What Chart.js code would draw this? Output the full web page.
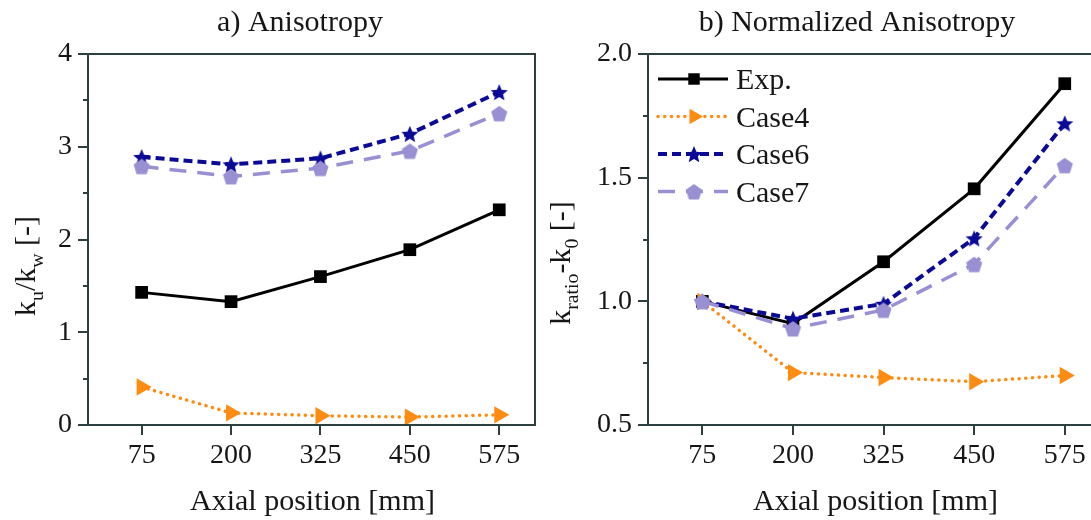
<!DOCTYPE html>
<html>
<head>
<meta charset="utf-8">
<script src="https://cdn.jsdelivr.net/npm/chart.js@4/dist/chart.umd.min.js"></script>
<style>
  html, body { margin: 0; padding: 0; background: #fff; overflow: hidden; }
  #wrap { position: relative; width: 1091px; height: 520px; overflow: hidden; }
  #wrap canvas { position: absolute; top: 0; }
  #left { left: 0; }
  #right { left: 545px; }
</style>
</head>
<body>
<div id="wrap">
  <canvas id="left" width="545" height="520"></canvas>
  <canvas id="right" width="580" height="520"></canvas>
</div>
<script>
// axial measurement positions [mm]
const positions = [75, 200, 325, 450, 575];
const seriesNames = ["Exp.", "Case4", "Case6", "Case7"];

// a) anisotropy k_u/k_w
const expA   = [1.43, 1.33, 1.60, 1.89, 2.32];
const case4A = [0.41, 0.13, 0.10, 0.085, 0.11];
const case6A = [2.89, 2.81, 2.875, 3.14, 3.59];
const case7A = [2.79, 2.68, 2.77, 2.955, 3.36];

// b) normalized anisotropy
const expB   = [1.00, 0.91, 1.16, 1.455, 1.88];
const case4B = [1.00, 0.712, 0.692, 0.675, 0.70];
const case6B = [1.00, 0.93, 0.99, 1.255, 1.72];
const case7B = [1.00, 0.89, 0.965, 1.15, 1.55];

const yTicksA = [0, 1, 2, 3, 4];
const yTicksB = [0.5, 1.0, 1.5, 2.0];

const SERIF = '"Liberation Serif", "Times New Roman", serif';
const AXIS = '#2e3f3f';
const INK = '#161616';

function starCanvas(color, r) {
  const s = Math.ceil(r * 2 + 2);
  const c = document.createElement('canvas');
  c.width = c.height = s;
  const g = c.getContext('2d');
  g.fillStyle = color;
  g.beginPath();
  for (let i = 0; i < 10; i++) {
    const rr = i % 2 ? r * 0.45 : r;
    const a = -Math.PI / 2 + i * Math.PI / 5;
    g.lineTo(s / 2 + rr * Math.cos(a), s / 2 + 1 + rr * Math.sin(a));
  }
  g.closePath();
  g.fill();
  return c;
}

function pentagonCanvas(color, r) {
  const s = Math.ceil(r * 2 + 2);
  const c = document.createElement('canvas');
  c.width = c.height = s;
  const g = c.getContext('2d');
  g.fillStyle = color;
  g.beginPath();
  for (let i = 0; i < 5; i++) {
    const a = -Math.PI / 2 + i * 2 * Math.PI / 5;
    g.lineTo(s / 2 + r * Math.cos(a), s / 2 + 1 + r * Math.sin(a));
  }
  g.closePath();
  g.fill();
  return c;
}

const styles = [
  { color: '#000000', width: 3, dash: [], style: 'rect', radius: 9, rotation: 0, order: 3 },
  { color: '#ff8c12', width: 3.5, dash: [0.1, 6.6], style: 'triangle', radius: 10, rotation: 90, order: 2, cap: 'round' },
  { color: '#0a0a96', width: 4, dash: [9, 5], style: starCanvas('#0a0a96', 9), radius: 9, rotation: 0, order: 1 },
  { color: '#9990d3', width: 3.5, dash: [17, 11], style: pentagonCanvas('#9990d3', 8.5), radius: 9, rotation: 0, order: 0 }
];

// draws a run of text pieces, some of them as subscripts
function richText(ctx, parts, x, y, size) {
  let cx = x;
  parts.forEach(p => {
    const fs = p.sub ? size * 0.66 : size;
    ctx.font = fs + 'px ' + SERIF;
    ctx.fillText(p.t, cx, y + (p.sub ? size * 0.27 : 0));
    cx += ctx.measureText(p.t).width;
  });
  return cx - x;
}
function richWidth(ctx, parts, size) {
  let w = 0;
  parts.forEach(p => {
    ctx.font = (p.sub ? size * 0.66 : size) + 'px ' + SERIF;
    w += ctx.measureText(p.t).width;
  });
  return w;
}

const decor = {
  id: 'decor',
  afterDraw(chart, args, o) {
    const { ctx, chartArea: a, scales } = chart;
    ctx.save();
    // frame and minor ticks
    ctx.strokeStyle = AXIS;
    ctx.lineWidth = 2;
    ctx.strokeRect(a.left, a.top, a.right - a.left, a.bottom - a.top);
    ctx.beginPath();
    o.minor.forEach(v => {
      const py = Math.round(scales.y.getPixelForValue(v));
      ctx.moveTo(a.left - 5, py);
      ctx.lineTo(a.left, py);
    });
    ctx.stroke();

    ctx.fillStyle = INK;
    ctx.textBaseline = 'alphabetic';
    // panel title
    ctx.font = '30px ' + SERIF;
    ctx.textAlign = 'center';
    ctx.fillText(o.title, o.titleX, 31);
    // x axis title
    ctx.fillText('Axial position [mm]', (a.left + a.right) / 2 + o.xTitleShift, 510);

    // y axis title, rotated
    ctx.textAlign = 'left';
    const w = richWidth(ctx, o.yTitle, 30);
    ctx.translate(o.yTitleX, o.yTitleY);
    ctx.rotate(-Math.PI / 2);
    richText(ctx, o.yTitle, -w / 2, 0, 30);
    ctx.restore();

    if (o.legend) {
      const lg = o.legend;
      chart.data.datasets.forEach((ds, i) => {
        const st = styles[i];
        const y = lg.y + i * lg.step;
        ctx.save();
        ctx.strokeStyle = st.color;
        ctx.lineWidth = st.width;
        ctx.lineCap = st.cap || 'butt';
        ctx.setLineDash(st.dash);
        ctx.beginPath();
        ctx.moveTo(lg.x0, y);
        ctx.lineTo(lg.x1, y);
        ctx.stroke();
        ctx.setLineDash([]);
        ctx.fillStyle = st.color;
        Chart.helpers.drawPoint(ctx, {
          pointStyle: st.style, radius: st.radius * 0.9, rotation: st.rotation, borderWidth: 0
        }, lg.mx, y);
        ctx.fillStyle = INK;
        ctx.font = '30px ' + SERIF;
        ctx.textAlign = 'left';
        ctx.fillText(ds.label, lg.tx, y + 10);
        ctx.restore();
      });
    }
  }
};

function buildChart(id, values, yMin, yMax, yTicks, fmt, yWidth, padRight, deco) {
  const datasets = values.map((vals, i) => {
    const st = styles[i];
    return {
      label: seriesNames[i],
      data: positions.map((x, j) => ({ x: x, y: vals[j] })),
      borderColor: st.color,
      backgroundColor: st.color,
      borderWidth: st.width,
      borderDash: st.dash,
      borderCapStyle: st.cap || 'butt',
      pointStyle: st.style,
      pointRadius: st.radius,
      pointRotation: st.rotation,
      pointBackgroundColor: st.color,
      pointBorderWidth: 0,
      tension: 0,
      order: st.order,
      clip: false
    };
  });

  return new Chart(document.getElementById(id), {
    type: 'line',
    data: { datasets: datasets },
    options: {
      responsive: false,
      animation: false,
      events: [],
      layout: { padding: { top: 54, right: padRight, left: 0, bottom: 0 } },
      plugins: { legend: { display: false }, tooltip: { enabled: false }, decor: deco },
      scales: {
        x: {
          type: 'linear',
          min: 0,
          max: 625,
          afterBuildTicks: s => { s.ticks = positions.map(v => ({ value: v })); },
          afterFit: s => { s.height = 95; },
          border: { display: false },
          grid: { drawOnChartArea: false, drawTicks: true, tickLength: 10, color: AXIS, lineWidth: 2 },
          ticks: { color: INK, font: { family: SERIF, size: 28 }, padding: 4, maxRotation: 0, autoSkip: false }
        },
        y: {
          type: 'linear',
          min: yMin,
          max: yMax,
          afterBuildTicks: s => { s.ticks = yTicks.map(v => ({ value: v })); },
          afterFit: s => { s.width = yWidth; },
          border: { display: false },
          grid: { drawOnChartArea: false, drawTicks: true, tickLength: 10, color: AXIS, lineWidth: 2 },
          ticks: { color: INK, font: { family: SERIF, size: 28 }, padding: 6, callback: fmt }
        }
      }
    },
    plugins: [decor]
  });
}

buildChart('left', [expA, case4A, case6A, case7A], 0, 4, yTicksA, v => String(v), 88, 5, {
  title: 'a) Anisotropy',
  titleX: 300,
  xTitleShift: 1,
  yTitle: [{ t: 'k' }, { t: 'u', sub: true }, { t: '/k' }, { t: 'w', sub: true }, { t: ' [-]' }],
  yTitleX: 35,
  yTitleY: 266,
  minor: [0.5, 1.5, 2.5, 3.5]
});

buildChart('right', [expB, case4B, case6B, case7B], 0.5, 2.0, yTicksB, v => v.toFixed(1), 103, 24, {
  title: 'b) Normalized Anisotropy',
  titleX: 312,
  xTitleShift: 1,
  yTitle: [{ t: 'k' }, { t: 'ratio', sub: true }, { t: '-k' }, { t: '0', sub: true }, { t: ' [-]' }],
  yTitleX: 25,
  yTitleY: 263,
  minor: [0.75, 1.25, 1.75],
  legend: { x0: 113, x1: 183, mx: 149, tx: 191, y: 79, step: 37.5 }
});
</script>
</body>
</html>
